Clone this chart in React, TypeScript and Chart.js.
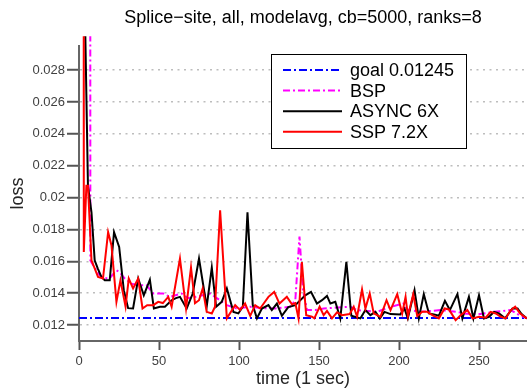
import React, { useEffect, useRef } from 'react';
import { Chart, registerables } from 'chart.js';

Chart.register(...registerables);

const titleText = 'Splice−site, all, modelavg, cb=5000, ranks=8';
const xAxisTitle = 'time (1 sec)';
const yAxisTitle = 'loss';

const xTickValues = [0, 50, 100, 150, 200, 250];
const yTickValues = [0.012, 0.014, 0.016, 0.018, 0.02, 0.022, 0.024, 0.026, 0.028];
const yTickLabels = ['0.012', '0.014', '0.016', '0.018', '0.02', '0.022', '0.024', '0.026', '0.028'];

const seriesLabels = ['goal 0.01245', 'BSP', 'ASYNC 6X', 'SSP 7.2X'];
const seriesColors = ['#0000ff', '#ff00ff', '#000000', '#ff0000'];

const goalTime = [0, 280];
const goalLoss = [0.01245, 0.01245];

const bspTime = [7.0, 7.1, 9.8, 13.0, 15.5, 19.2, 23.4, 25.5, 28.6, 32.8, 36.8, 42.2, 46.4, 52.6, 56.8, 64.2, 68.1, 73.1, 81.9, 86.1, 92.4, 98.6, 107.0, 115.1, 122.6, 132.0, 135.2, 137.8, 140.0, 142.5, 147.7, 152.9, 169.6, 173.8, 186.3, 194.7, 203.0, 205.1, 213.5, 226.0, 236.5, 240.6, 249.0, 259.4, 269.9, 274.1, 279.9];
const bspLoss = [0.05, 0.01606, 0.0156, 0.01512, 0.01494, 0.01494, 0.01544, 0.01531, 0.01492, 0.0146, 0.0145, 0.0145, 0.01398, 0.01398, 0.01377, 0.01398, 0.01369, 0.01377, 0.01398, 0.01369, 0.01325, 0.01304, 0.01315, 0.01306, 0.01304, 0.01315, 0.01356, 0.01756, 0.01419, 0.01294, 0.01294, 0.01304, 0.01315, 0.01294, 0.01283, 0.01315, 0.01335, 0.01298, 0.01283, 0.01294, 0.01283, 0.01273, 0.01267, 0.01283, 0.01294, 0.01269, 0.01242];

const asyncTime = [0.5, 5.6, 7.8, 9.8, 11.7, 14.0, 16.1, 19.2, 21.9, 25.1, 28.0, 30.7, 33.8, 37.0, 40.5, 44.3, 46.8, 50.6, 53.7, 57.9, 60.6, 63.1, 67.3, 71.1, 75.0, 79.8, 83.0, 85.7, 89.2, 92.4, 96.5, 99.6, 102.4, 105.3, 108.6, 111.2, 114.3, 118.4, 120.5, 123.7, 126.8, 130.8, 135.2, 141.4, 145.0, 148.7, 151.9, 155.0, 157.1, 160.2, 163.3, 167.1, 170.2, 175.9, 179.0, 182.1, 185.3, 188.0, 190.9, 194.7, 200.8, 203.4, 205.5, 209.7, 212.4, 215.5, 218.7, 221.8, 224.9, 228.7, 231.8, 236.5, 239.6, 243.7, 246.5, 250.0, 253.1, 256.3, 259.4, 262.5, 266.3, 270.9, 274.1, 276.6, 279.9];
const asyncLoss = [0.05, 0.02075, 0.01908, 0.01606, 0.01556, 0.01502, 0.01481, 0.01481, 0.01783, 0.0169, 0.01419, 0.01306, 0.01304, 0.01492, 0.01387, 0.01485, 0.01304, 0.01315, 0.01315, 0.01356, 0.01369, 0.01377, 0.01304, 0.01398, 0.01617, 0.01315, 0.0156, 0.01315, 0.01346, 0.0143, 0.01283, 0.01273, 0.01315, 0.01908, 0.01325, 0.01242, 0.01304, 0.01325, 0.01294, 0.01335, 0.01258, 0.01313, 0.01325, 0.01387, 0.01408, 0.01335, 0.01356, 0.01383, 0.01335, 0.01346, 0.01242, 0.01596, 0.01258, 0.01242, 0.01294, 0.01262, 0.01283, 0.01242, 0.01283, 0.01269, 0.01267, 0.01304, 0.01242, 0.01419, 0.01242, 0.01394, 0.01273, 0.01267, 0.01258, 0.01352, 0.01294, 0.01394, 0.01242, 0.01377, 0.01242, 0.01387, 0.01242, 0.01252, 0.01283, 0.01273, 0.01242, 0.01304, 0.01304, 0.01269, 0.01242];

const sspTime = [2.9, 3.0, 4.6, 5.6, 7.8, 11.9, 15.0, 18.2, 20.3, 23.4, 25.9, 29.1, 31.1, 33.8, 37.0, 39.7, 42.6, 46.4, 49.5, 52.4, 55.8, 57.9, 63.1, 66.9, 70.0, 72.5, 75.0, 77.3, 79.8, 83.0, 85.0, 88.2, 92.4, 97.6, 100.7, 103.8, 107.0, 110.1, 113.2, 118.4, 122.0, 125.3, 129.9, 133.1, 135.2, 137.2, 139.3, 142.0, 145.6, 147.1, 150.4, 152.9, 155.0, 158.1, 161.3, 164.4, 169.2, 171.7, 173.8, 176.9, 179.0, 181.7, 184.2, 188.4, 192.2, 194.7, 198.9, 202.0, 204.1, 205.6, 208.9, 211.4, 214.5, 217.7, 220.8, 224.9, 228.5, 231.2, 235.4, 238.5, 242.7, 245.9, 250.0, 254.2, 257.3, 260.5, 263.6, 266.7, 269.9, 272.6, 275.7, 279.9];
const sspLoss = [0.05, 0.01658, 0.02075, 0.02075, 0.01606, 0.01502, 0.01492, 0.01783, 0.0170, 0.01346, 0.01481, 0.01315, 0.01492, 0.0143, 0.01492, 0.01304, 0.01325, 0.01325, 0.01346, 0.01338, 0.01377, 0.01315, 0.01617, 0.01304, 0.0156, 0.01337, 0.01356, 0.0143, 0.01283, 0.01273, 0.01315, 0.0192, 0.01242, 0.01325, 0.01294, 0.01335, 0.01258, 0.01325, 0.01304, 0.01377, 0.01408, 0.01335, 0.01377, 0.0133, 0.01338, 0.01242, 0.01596, 0.01262, 0.01252, 0.01242, 0.01315, 0.01262, 0.01289, 0.01242, 0.0128, 0.01262, 0.01269, 0.01315, 0.01252, 0.01423, 0.01304, 0.01398, 0.01273, 0.01252, 0.01356, 0.01294, 0.01394, 0.01273, 0.01377, 0.01256, 0.01394, 0.01256, 0.01283, 0.01283, 0.01262, 0.01242, 0.01304, 0.01298, 0.01231, 0.01262, 0.01294, 0.01242, 0.01252, 0.01246, 0.01283, 0.01273, 0.01252, 0.01242, 0.01294, 0.01315, 0.01273, 0.01242];

const FONT = "'Liberation Sans', Arial, Helvetica, sans-serif";

const toPoints = (t: number[], v: number[]) => t.map((x, i) => ({ x, y: v[i] }));

const boxLegend = {
  id: 'boxLegend',
  afterDraw(chart: any) {
    const ctx = chart.ctx;
    ctx.save();
    const bx = 271.5, by = 54.5, bw = 195, bh = 94;
    ctx.fillStyle = '#ffffff';
    ctx.fillRect(bx, by, bw, bh);
    ctx.strokeStyle = '#000000';
    ctx.lineWidth = 1;
    ctx.strokeRect(bx, by, bw, bh);
    ctx.font = `18px ${FONT}`;
    ctx.textBaseline = 'middle';
    ctx.textAlign = 'left';
    seriesLabels.forEach((label, i) => {
      const ds = chart.data.datasets[i];
      const y = 70 + i * 20.6;
      ctx.beginPath();
      ctx.setLineDash(ds.borderDash || []);
      ctx.strokeStyle = ds.borderColor;
      ctx.lineWidth = ds.borderWidth;
      ctx.moveTo(283, y);
      ctx.lineTo(342, y);
      ctx.stroke();
      ctx.setLineDash([]);
      ctx.fillStyle = '#000000';
      ctx.fillText(label, 350, y + 1);
    });
    ctx.restore();
  },
};

export default function App() {
  const ref = useRef<HTMLCanvasElement>(null);

  useEffect(() => {
    if (!ref.current) return;
    const clip = { left: 2, top: 10, right: 2, bottom: 2 };
    const chart = new Chart(ref.current, {
      type: 'line',
      data: {
        datasets: [
          { label: seriesLabels[0], data: toPoints(goalTime, goalLoss), borderColor: seriesColors[0], borderWidth: 2, borderDash: [8, 3, 2, 3], pointRadius: 0, order: 3, clip },
          { label: seriesLabels[1], data: toPoints(bspTime, bspLoss), borderColor: seriesColors[1], borderWidth: 2, borderDash: [7, 3, 2, 3], pointRadius: 0, order: 2, clip },
          { label: seriesLabels[2], data: toPoints(asyncTime, asyncLoss), borderColor: seriesColors[2], borderWidth: 2, pointRadius: 0, order: 1, clip },
          { label: seriesLabels[3], data: toPoints(sspTime, sspLoss), borderColor: seriesColors[3], borderWidth: 2, pointRadius: 0, order: 0, clip },
        ] as any,
      },
      options: {
        animation: false,
        responsive: false,
        events: [],
        layout: { padding: 0 },
        elements: { line: { tension: 0 } },
        plugins: {
          legend: { display: false },
          tooltip: { enabled: false },
          title: {
            display: true,
            text: titleText,
            fullSize: false,
            color: '#000000',
            font: { family: FONT, size: 18, weight: 'normal' },
            padding: { top: 6.8, bottom: 17.8 },
          },
        },
        scales: {
          x: {
            type: 'linear',
            min: 0,
            max: 280,
            afterBuildTicks: (s: any) => { s.ticks = xTickValues.map((v) => ({ value: v })); },
            afterFit: (s: any) => { s.height = 47; s.paddingLeft = 0; s.paddingRight = 0; },
            ticks: {
              color: '#404040',
              font: { family: FONT, size: 13 },
              padding: 4,
              maxRotation: 0,
              callback: (v: any) => String(v),
            },
            grid: { drawOnChartArea: false, drawTicks: true, tickLength: 9, tickColor: '#555555', tickWidth: 2 },
            border: { display: true, color: '#666666', width: 2 },
            title: { display: true, text: xAxisTitle, color: '#262626', font: { family: FONT, size: 18 }, padding: { top: 0, bottom: -2 } },
          },
          y: {
            type: 'linear',
            min: 0.011,
            max: 0.0295,
            afterBuildTicks: (s: any) => { s.ticks = yTickValues.map((v) => ({ value: v })); },
            afterFit: (s: any) => { s.width = 79; s.paddingTop = 0; s.paddingBottom = 0; },
            ticks: {
              color: '#404040',
              font: { family: FONT, size: 13 },
              padding: 2,
              callback: (_v: any, i: number) => yTickLabels[i],
            },
            grid: {
              drawOnChartArea: true,
              drawTicks: true,
              tickLength: 12,
              color: '#bdbdbd',
              lineWidth: 1.5,
              tickColor: '#555555',
              tickWidth: 2,
              tickBorderDash: [],
            },
            border: { display: true, color: '#666666', width: 2, dash: [2, 4.5] },
            title: { display: true, text: yAxisTitle, color: '#262626', font: { family: FONT, size: 18 }, padding: { top: 7, bottom: 0 } },
          },
        },
      } as any,
      plugins: [boxLegend],
    });
    return () => chart.destroy();
  }, []);

  return (
    <div style={{ position: 'absolute', left: 0, top: 0, width: 527, height: 388, background: '#ffffff' }}>
      <canvas ref={ref} width={527} height={388} style={{ display: 'block' }} />
    </div>
  );
}
